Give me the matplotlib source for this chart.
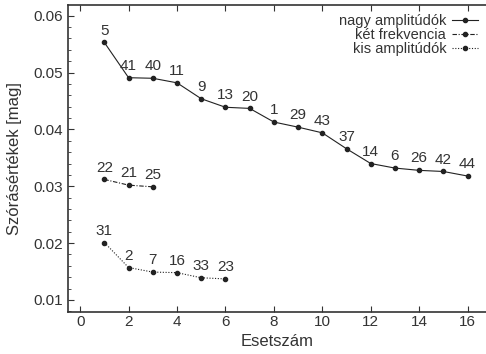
import numpy as np
from matplotlib import pyplot as plt
from matplotlib.ticker import MultipleLocator

# adatok
x_nagy = [1, 2, 3, 4, 5, 6, 7, 8, 9, 10, 11, 12, 13, 14, 15, 16]
y_nagy = [0.0553, 0.0491, 0.0490, 0.0482, 0.0454, 0.0439, 0.0437, 0.0413,
          0.0404, 0.0394, 0.0366, 0.0340, 0.0332, 0.0328, 0.0326, 0.0318]
lab_nagy = ["5", "41", "40", "11", "9", "13", "20", "1", "29", "43", "37",
            "14", "6", "26", "42", "44"]

x_ket = [1, 2, 3]
y_ket = [0.0312, 0.0302, 0.0299]
lab_ket = ["22", "21", "25"]

x_kis = [1, 2, 3, 4, 5, 6]
y_kis = [0.0201, 0.0157, 0.0149, 0.0148, 0.0139, 0.0137]
lab_kis = ["31", "2", "7", "16", "33", "23"]

plt.rcParams['font.family'] = ['Liberation Sans', 'DejaVu Sans']
plt.rcParams['font.size'] = 11
txt = '#333333'

fig = plt.figure(figsize=(4.86, 3.54), dpi=100)
ax = fig.add_axes([0.14, 0.119, 0.862, 0.867])

kw = dict(color='#222222', lw=0.8, marker='o', ms=3)
ax.plot(x_nagy, y_nagy, ls='-', label='nagy amplitúdók', **kw)
ax.plot(x_ket, y_ket, ls=(0, (4, 1.5, 1, 1.5)), label='két frekvencia', **kw)
ax.plot(x_kis, y_kis, ls=(0, (1, 1.5)), label='kis amplitúdók', **kw)

for xs, ys, ls in [(x_nagy, y_nagy, lab_nagy), (x_ket, y_ket, lab_ket), (x_kis, y_kis, lab_kis)]:
    for xv, yv, t in zip(xs, ys, ls):
        ax.annotate(t, (xv, yv), xytext=(0, 3.5), textcoords='offset points',
                    ha='center', va='bottom', fontsize=11, color=txt)

ax.set_xlim(-0.5, 16.8)
ax.set_ylim(0.0079, 0.0619)
ax.xaxis.set_major_locator(MultipleLocator(2))
ax.yaxis.set_major_locator(MultipleLocator(0.01))
ax.yaxis.set_minor_locator(MultipleLocator(0.002))
ax.tick_params(direction='in', which='both', top=True, right=False, colors=txt,
               labelcolor=txt, labelsize=11)
ax.tick_params(axis='x', pad=2)
ax.tick_params(which='major', length=4)
ax.tick_params(which='minor', length=2)
for s in ax.spines.values():
    s.set_color('#333333')
    s.set_linewidth(1.2)

ax.set_xlabel('Esetszám', color=txt, fontsize=12, labelpad=4)
ax.set_ylabel('Szórásértékek [mag]', color=txt, fontsize=12, labelpad=8)

leg = ax.legend(loc='upper right', markerfirst=False, frameon=False, handlelength=1.8,
                labelspacing=0.0, handletextpad=0.4, borderaxespad=0.2, fontsize=10.5)
for t in leg.get_texts():
    t.set_color(txt)

fig.savefig('out.png', dpi=100)
